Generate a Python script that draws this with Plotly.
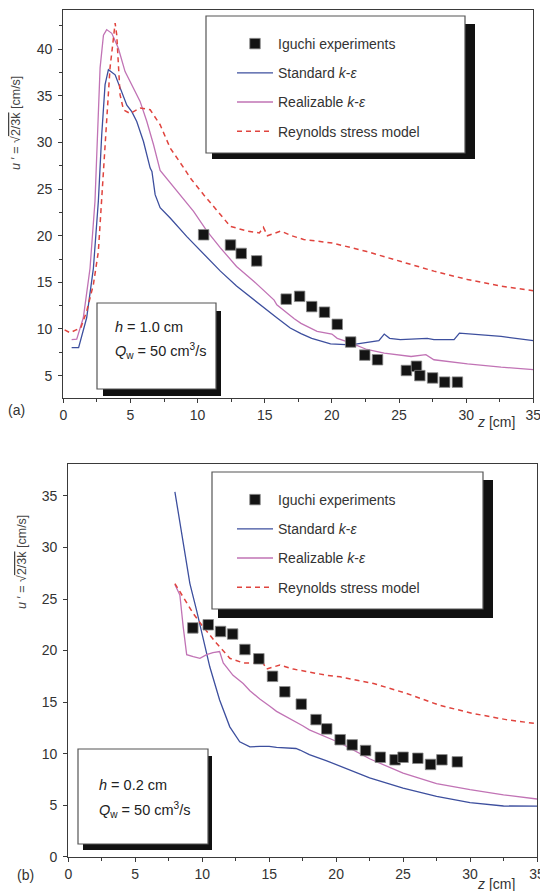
import plotly.graph_objects as go

W, H = 540, 891

# ---------------- data: panel (a) h = 1.0 cm ----------------
a_exp_z = [10.45, 12.45, 13.25, 14.4, 16.6, 17.6, 18.5, 19.45, 20.4, 21.4, 22.45, 23.4, 25.55, 26.3, 26.55, 27.5, 28.4, 29.35]
a_exp_u = [20.1, 19.0, 18.1, 17.3, 13.2, 13.5, 12.4, 11.8, 10.5, 8.6, 7.2, 6.7, 5.55, 6.0, 5.0, 4.75, 4.3, 4.3]

a_std_z = [0.62, 1.14, 1.74, 2.24, 2.61, 2.86, 3.11, 3.36, 3.86, 4.23, 4.73, 5.10, 5.47, 5.97, 6.47, 6.6, 6.84, 7.21, 7.96, 9.2, 10.45, 11.7, 12.9, 14.2, 15.9, 16.9, 17.7, 18.5, 19.9, 21.4, 23.5, 23.9, 24.3, 25.1, 27.1, 27.6, 29.1, 29.5, 30.6, 32.6, 35.0]
a_std_u = [8.0, 8.0, 11.2, 16.5, 23.7, 30.8, 36.2, 37.8, 37.25, 35.8, 34.0, 33.3, 32.25, 30.1, 27.25, 26.9, 24.4, 23.0, 21.9, 19.9, 18.1, 16.2, 14.6, 13.1, 11.2, 10.1, 9.5, 9.0, 8.4, 8.3, 8.75, 9.45, 9.0, 8.85, 9.0, 8.85, 8.85, 9.55, 9.45, 9.2, 8.75]

a_rke_z = [0.62, 1.0, 1.49, 1.99, 2.36, 2.56, 2.74, 2.99, 3.23, 3.61, 4.10, 4.60, 5.22, 5.72, 6.22, 6.72, 7.21, 8.46, 9.7, 10.7, 11.7, 12.9, 14.2, 15.7, 15.9, 17.2, 17.7, 18.9, 20.0, 20.4, 21.4, 22.6, 23.9, 25.9, 27.0, 27.6, 30.1, 32.6, 35.0]
a_rke_u = [8.85, 8.9, 11.2, 16.5, 23.7, 30.8, 38.0, 41.5, 42.1, 41.7, 40.1, 37.6, 35.8, 34.4, 32.25, 29.75, 27.0, 24.75, 22.6, 20.5, 18.7, 16.7, 15.1, 13.1, 12.6, 11.1, 10.6, 9.75, 9.45, 9.0, 8.5, 7.8, 7.4, 7.05, 7.25, 6.7, 6.25, 5.9, 5.65]

a_rsm_z = [0.1, 0.5, 0.95, 1.3, 1.74, 2.24, 2.61, 2.99, 3.23, 3.48, 3.68, 3.86, 3.98, 4.10, 4.23, 4.48, 4.98, 5.72, 6.47, 7.21, 7.96, 8.96, 9.45, 10.45, 11.7, 12.44, 13.7, 14.6, 14.9, 15.2, 16.2, 17.0, 17.9, 20.1, 22.6, 25.1, 27.6, 30.1, 32.6, 35.0]
a_rsm_u = [9.9, 9.6, 9.9, 10.1, 11.9, 14.75, 18.3, 27.25, 33.3, 38.0, 40.5, 42.8, 41.5, 38.0, 35.1, 33.5, 33.1, 33.7, 33.5, 31.9, 29.4, 27.3, 26.2, 24.4, 22.25, 21.0, 20.5, 20.3, 20.9, 20.0, 20.5, 20.0, 19.6, 19.2, 18.3, 17.25, 16.2, 15.3, 14.6, 14.1]

# ---------------- data: panel (b) h = 0.2 cm ----------------
b_exp_z = [9.3, 10.45, 11.37, 12.27, 13.19, 14.23, 15.25, 16.17, 17.4, 18.5, 19.3, 20.3, 21.2, 22.2, 23.3, 24.4, 25.0, 26.1, 27.05, 27.9, 29.05]
b_exp_u = [22.2, 22.5, 21.85, 21.6, 20.1, 19.2, 17.5, 16.0, 14.8, 13.3, 12.4, 11.35, 10.85, 10.3, 9.65, 9.4, 9.65, 9.55, 8.95, 9.4, 9.2]

b_std_z = [7.96, 8.46, 8.84, 9.08, 9.58, 9.83, 10.07, 10.57, 11.3, 12.06, 12.8, 13.56, 14.3, 15.0, 15.55, 17.0, 17.3, 18.0, 19.3, 20.0, 21.8, 22.5, 25.0, 27.5, 30.0, 32.5, 35.0]
b_std_u = [35.4, 31.4, 28.6, 26.5, 23.9, 22.5, 21.2, 18.4, 15.2, 12.6, 11.15, 10.65, 10.7, 10.7, 10.6, 10.5, 10.35, 9.9, 9.3, 8.95, 8.0, 7.65, 6.65, 5.85, 5.25, 4.92, 4.9]

b_rke_z = [7.96, 8.33, 8.58, 8.84, 9.33, 9.83, 10.33, 10.8, 11.3, 11.57, 12.3, 13.06, 13.56, 14.3, 15.05, 15.55, 17.5, 18.0, 20.0, 20.5, 22.5, 25.0, 27.5, 30.0, 32.5, 35.0]
b_rke_u = [26.4, 25.4, 22.3, 19.6, 19.4, 19.25, 19.6, 19.8, 19.9, 18.8, 17.6, 16.8, 16.1, 15.3, 14.6, 14.1, 12.7, 12.3, 11.2, 10.9, 9.5, 8.1, 7.1, 6.5, 6.0, 5.6]

b_rsm_z = [7.96, 8.58, 9.33, 10.07, 11.07, 12.06, 13.06, 14.06, 14.5, 14.8, 15.3, 15.8, 16.8, 19.3, 20.3, 21.8, 22.8, 25.25, 27.7, 30.2, 32.7, 35.0]
b_rsm_u = [26.5, 25.2, 23.6, 22.3, 20.7, 19.25, 18.8, 18.8, 18.9, 18.2, 18.4, 18.6, 18.2, 17.6, 17.45, 17.1, 16.8, 15.85, 14.7, 13.9, 13.3, 12.9]

series_names = ["Iguchi experiments", "Standard <i>k</i>-<i>ε</i>", "Realizable <i>k</i>-<i>ε</i>", "Reynolds stress model"]
x_ticks = [0, 5, 10, 15, 20, 25, 30, 35]

# ---------------- styles ----------------
FONT = "Liberation Sans, Arial, Helvetica, sans-serif"
C_STD = "#3d4f9e"
C_RKE = "#c173b5"
C_RSM = "#e0443e"
AX = "#3a3a3a"

def px_x(p):
    return p / W

def px_y(p):
    return 1 - p / H

fig = go.Figure()

def add_panel(xa, ya, leg, ez, eu, sz, su, rz, ru, mz, mu):
    fig.add_trace(go.Scatter(x=sz, y=su, mode="lines", name=series_names[1], xaxis=xa, yaxis=ya,
                             line=dict(color=C_STD, width=1.3), legend=leg, legendrank=2, legendgroup=leg + "b"))
    fig.add_trace(go.Scatter(x=rz, y=ru, mode="lines", name=series_names[2], xaxis=xa, yaxis=ya,
                             line=dict(color=C_RKE, width=1.3), legend=leg, legendrank=3, legendgroup=leg + "c"))
    fig.add_trace(go.Scatter(x=mz, y=mu, mode="lines", name=series_names[3], xaxis=xa, yaxis=ya,
                             line=dict(color=C_RSM, width=1.5, dash="5px,4px"), legend=leg, legendrank=4, legendgroup=leg + "d"))
    fig.add_trace(go.Scatter(x=ez, y=eu, mode="markers", name=series_names[0], xaxis=xa, yaxis=ya,
                             marker=dict(symbol="square", size=10.5, color="#141414", line=dict(color="#8a8a8a", width=0.8)),
                             legend=leg, legendrank=1, legendgroup=leg + "a"))

add_panel("x", "y", "legend", a_exp_z, a_exp_u, a_std_z, a_std_u, a_rke_z, a_rke_u, a_rsm_z, a_rsm_u)
add_panel("x2", "y2", "legend2", b_exp_z, b_exp_u, b_std_z, b_std_u, b_rke_z, b_rke_u, b_rsm_z, b_rsm_u)

axis_common = dict(showline=True, linecolor=AX, linewidth=1.3, mirror=True, ticks="outside", ticklen=4,
                   tickwidth=1, tickcolor=AX, showgrid=False, zeroline=False, automargin=False,
                   ticklabeloverflow="allow",
                   tickfont=dict(family=FONT, size=14, color="#333"))
minor = dict(dtick=2.5, ticks="outside", ticklen=3, tickwidth=1, tickcolor=AX, showgrid=False)

legend_common = dict(bgcolor="rgba(0,0,0,0)", borderwidth=0, font=dict(family=FONT, size=14, color="#333"),
                     xanchor="left", yanchor="top", traceorder="grouped", tracegroupgap=8, itemwidth=36)

shapes = []
def box(x0, y0, x1, y1, sx1, sy1, soff):
    # shadow then white box (pixel coordinates)
    shapes.append(dict(type="rect", xref="paper", yref="paper", x0=px_x(x0 + soff), x1=px_x(sx1),
                       y0=px_y(sy1), y1=px_y(y0 + soff + 2), fillcolor="#111", line=dict(width=0), layer="above"))
    shapes.append(dict(type="rect", xref="paper", yref="paper", x0=px_x(x0), x1=px_x(x1),
                       y0=px_y(y1), y1=px_y(y0), fillcolor="white", line=dict(color="#555", width=1.2), layer="above"))

box(206, 16, 465, 153, 475, 159, 6)
box(97, 303, 216, 389, 221, 396, 6)
box(212, 472, 483, 609, 493, 618, 6)
box(78, 749, 208, 844, 212, 850, 5)

ann_font = dict(family=FONT, size=14.5, color="#222")
lab_font = dict(family=FONT, size=12.5, color="#444")
big_lab = dict(family=FONT, size=14, color="#333")
ytitle = "<i>u</i> ′ = √<span style='text-decoration:overline'>2/3k</span> [cm/s]"
annotations = [
    dict(text="<i>h</i> = 1.0 cm", x=px_x(113), y=px_y(327), xanchor="left", yanchor="middle", font=ann_font),
    dict(text="<i>Q</i><sub>w</sub> = 50 cm<sup>3</sup>/s", x=px_x(113), y=px_y(351), xanchor="left", yanchor="middle", font=ann_font),
    dict(text="<i>h</i> = 0.2 cm", x=px_x(97), y=px_y(785), xanchor="left", yanchor="middle", font=ann_font),
    dict(text="<i>Q</i><sub>w</sub> = 50 cm<sup>3</sup>/s", x=px_x(97), y=px_y(810), xanchor="left", yanchor="middle", font=ann_font),
    dict(text=ytitle, x=px_x(16), y=px_y(123), textangle=-90, xanchor="center", yanchor="middle", font=lab_font),
    dict(text=ytitle, x=px_x(22), y=px_y(562), textangle=-90, xanchor="center", yanchor="middle", font=lab_font),
    dict(text="<i>z</i> [cm]", x=px_x(496), y=px_y(422), xanchor="center", yanchor="middle", font=big_lab),
    dict(text="<i>z</i> [cm]", x=px_x(496), y=px_y(884), xanchor="center", yanchor="middle", font=big_lab),
    dict(text="(a)", x=px_x(16), y=px_y(410), xanchor="center", yanchor="middle", font=big_lab),
    dict(text="(b)", x=px_x(25), y=px_y(875), xanchor="center", yanchor="middle", font=big_lab),
]
for a in annotations:
    a.update(xref="paper", yref="paper", showarrow=False)

fig.update_layout(
    width=W, height=H, margin=dict(l=0, r=0, t=0, b=0),
    paper_bgcolor="white", plot_bgcolor="white", template="none", showlegend=True,
    xaxis=dict(axis_common, domain=[px_x(63.3), px_x(533.3)], range=[0, 35], tickvals=x_ticks, minor=minor, anchor="y"),
    yaxis=dict(axis_common, domain=[px_y(398), px_y(10)], range=[2.6, 44.2], dtick=5, tick0=0, minor=minor,
               anchor="x", ticklabelstandoff=3),
    xaxis2=dict(axis_common, domain=[px_x(68.3), px_x(537)], range=[0, 35], tickvals=x_ticks, minor=minor, anchor="y2"),
    yaxis2=dict(axis_common, domain=[px_y(856.7), px_y(464)], range=[0, 38.1], dtick=5, tick0=0, anchor="x2",
                ticklabelstandoff=3),
    legend=dict(legend_common, x=px_x(232), y=px_y(28)),
    legend2=dict(legend_common, x=px_x(232), y=px_y(484)),
    shapes=shapes, annotations=annotations,
)

fig.write_html("out.html")
